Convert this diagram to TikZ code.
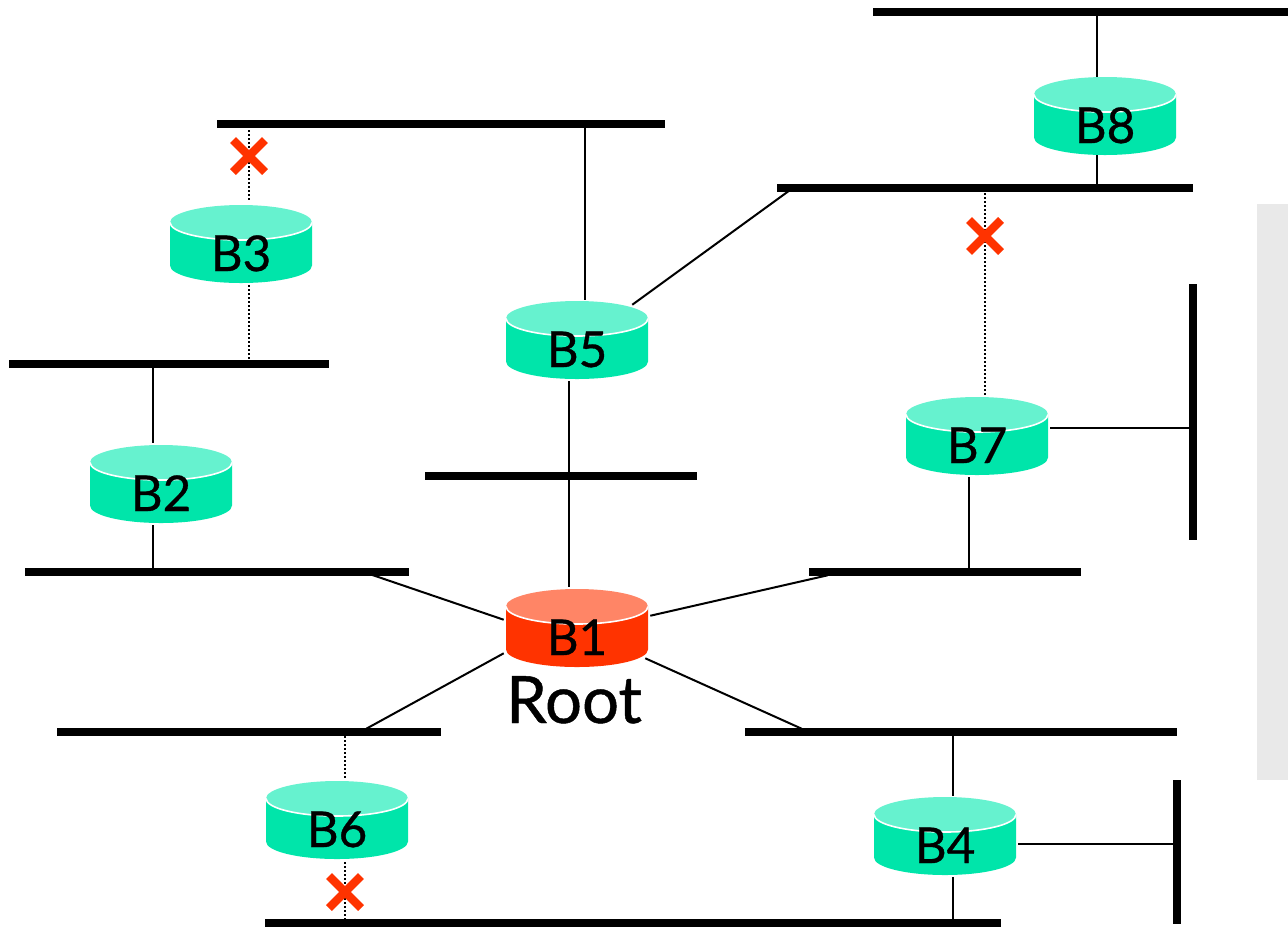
\documentclass[tikz,border=0pt]{standalone}
\usepackage{fontspec}
\setmainfont{Lato}[FakeBold=0.7]
\usetikzlibrary{calc}
\definecolor{tealbody}{HTML}{00E5AA}
\definecolor{tealtop}{HTML}{66F2CF}
\definecolor{redbody}{HTML}{FF3300}
\definecolor{redtop}{HTML}{FF8566}
\definecolor{panel}{HTML}{E9E9E9}
\tikzset{
  hbus/.style={rectangle,fill=black,inner sep=0pt,minimum width=#1*0.75pt,minimum height=6pt},
  vbus/.style={rectangle,fill=black,inner sep=0pt,minimum height=#1*0.75pt,minimum width=6pt},
  link/.style={draw=black,line width=1.5pt},
  dotlink/.style={draw=black,line width=1.4pt,dash pattern=on 1.5pt off 1.5pt},
  crossmark/.style={draw=redbody,line width=6.2pt},
  bridgebox/.style={rectangle,inner sep=0pt,minimum width=106.5pt,minimum height=58.5pt,
    font=\fontsize{37}{37}\selectfont},
  rootlabel/.style={anchor=base,inner sep=0pt,font=\fontsize{49}{49}\selectfont}
}
% \bridgeat{name}{x}{y}{label}{body colour}{top colour}
\newcommand{\bridgeat}[6]{%
  \begin{scope}[shift={(#2,#3)}]
    \fill[#5] (-71,-21.5) -- (-71,21.5) .. controls (-71,31.2) and (-39.2,39) .. (0,39)
      .. controls (39.2,39) and (71,31.2) .. (71,21.5) -- (71,-21.5) -- cycle;
    \fill[#6] (-71,-21.5) .. controls (-71,-31.2) and (-39.2,-39) .. (0,-39)
      .. controls (39.2,-39) and (71,-31.2) .. (71,-21.5)
      .. controls (71,-11.8) and (39.2,-4) .. (0,-4)
      .. controls (-39.2,-4) and (-71,-11.8) .. (-71,-21.5) -- cycle;
    \draw[white,line width=1.2pt] (-71,-21.5) .. controls (-71,-11.8) and (-39.2,-4) .. (0,-4)
      .. controls (39.2,-4) and (71,-11.8) .. (71,-21.5);
    \node[bridgebox] (#1) at (0,0) {\raisebox{-20.25pt}[0pt][0pt]{#4}};
  \end{scope}}
\begin{document}
\begin{tikzpicture}[x=0.75pt,y=-0.75pt]
\useasboundingbox (0,0) rectangle (1288,926);
\fill[panel] (1257,204) rectangle (1288,780);

% buses
\node[hbus=415] (top) at (1080.5,12) {};
\node[hbus=448] (n3) at (441,124) {};
\node[hbus=416] (n8) at (985,188) {};
\node[hbus=320] (nl) at (169,364) {};
\node[hbus=272] (nm) at (561,476) {};
\node[hbus=384] (n2) at (217,572) {};
\node[hbus=272] (n7) at (945,572) {};
\node[vbus=256] (v7) at (1193,412) {};
\node[hbus=384] (n6) at (249,732) {};
\node[hbus=432] (n4) at (961,732) {};
\node[hbus=736] (nb) at (633,923) {};
\node[vbus=144] (v4) at (1177,852) {};

% bridges
\bridgeat{b8}{1105}{116}{B8}{tealbody}{tealtop}
\bridgeat{b3}{241}{244}{B3}{tealbody}{tealtop}
\bridgeat{b5}{577}{340}{B5}{tealbody}{tealtop}
\bridgeat{b7}{977}{436}{B7}{tealbody}{tealtop}
\bridgeat{b2}{161}{484}{B2}{tealbody}{tealtop}
\bridgeat{b1}{577}{628}{B1}{redbody}{redtop}
\bridgeat{b6}{337}{820}{B6}{tealbody}{tealtop}
\bridgeat{b4}{945}{836}{B4}{tealbody}{tealtop}
\node[rootlabel] (root) at (574,723) {Root};

% ports on the bridges
\coordinate (p8) at ($(b8.north)+(-8,0)$);
\coordinate (p8s) at ($(b8.south)+(-8,0)$);
\coordinate (p5) at ($(b5.north)+(8,-1)$);
\coordinate (p5s) at ($(b5.south)+(-8,2)$);
\coordinate (p1) at ($(b1.north)+(-8,-2)$);
\coordinate (p3) at ($(b3.north)+(8,-5)$);
\coordinate (p3s) at ($(b3.south)+(8,2)$);
\coordinate (p2) at ($(b2.north)+(-8,-2)$);
\coordinate (p2s) at ($(b2.south)+(-8,2)$);
\coordinate (p7) at ($(b7.north)+(8,-2)$);
\coordinate (p7s) at ($(b7.south)+(-8,2)$);
\coordinate (p6) at ($(b6.north)+(8,-3)$);
\coordinate (p6s) at ($(b6.south)+(8,3)$);
\coordinate (p4) at ($(b4.north)+(8,-1)$);
\coordinate (p4s) at ($(b4.south)+(8,2)$);
\coordinate (p7e) at ($(b7.east)+(2,-8)$);
\coordinate (p4e) at ($(b4.east)+(2,8)$);

% connectors
\draw[link] (p8) -- (p8 |- top.south);
\draw[link] (p8s) -- (p8s |- n8.north);
\draw[link] (p5) -- (p5 |- n3.south);
\draw[link] (p5s) -- (p5s |- nm.north);
\draw[link] (p1) -- (p1 |- nm.south);
\draw[link] (p2) -- (p2 |- nl.south);
\draw[link] (p2s) -- (p2s |- n2.north);
\draw[link] (p7s) -- (p7s |- n7.north);
\draw[link] (p4) -- (p4 |- n4.south);
\draw[link] (p4s) -- (p4s |- nb.north);
\draw[link] (p7e) -- (p7e -| v7.west);
\draw[link] (p4e) -- (p4e -| v4.west);
\draw[link] ($(b5.north east)+(-16,4)$) -- ($(n8.south west)+(13,-2)$);
\draw[link] ($(b1.north west)+(-2,31)$) -- ($(n2.south east)+(-39,-2)$);
\draw[link] ($(b1.north east)+(2,27)$) -- ($(n7.south west)+(19,-1)$);
\draw[link] ($(b1.south west)+(-2,-14)$) -- ($(n6.north east)+(-75,1)$);
\draw[link] ($(b1.south east)+(-3,-9)$) -- ($(n4.north west)+(57,1)$);
\draw[dotlink] (p3) -- (p3 |- n3.south);
\draw[dotlink] (p3s) -- (p3s |- nl.north);
\draw[dotlink] (p7) -- (p7 |- n8.south);
\draw[dotlink] (p6) -- (p6 |- n6.south);
\draw[dotlink] (p6s) -- (p6s |- nb.north);

% crosses
\coordinate (x3) at (249,156);
\coordinate (x7) at (985,236);
\coordinate (x6) at (345,892);
\foreach \c in {x3,x7,x6}{
  \draw[crossmark] ($(\c)+(-16,-16)$) -- ($(\c)+(16,16)$);
  \draw[crossmark] ($(\c)+(-16,16)$) -- ($(\c)+(16,-16)$);
}
\end{tikzpicture}
\end{document}
